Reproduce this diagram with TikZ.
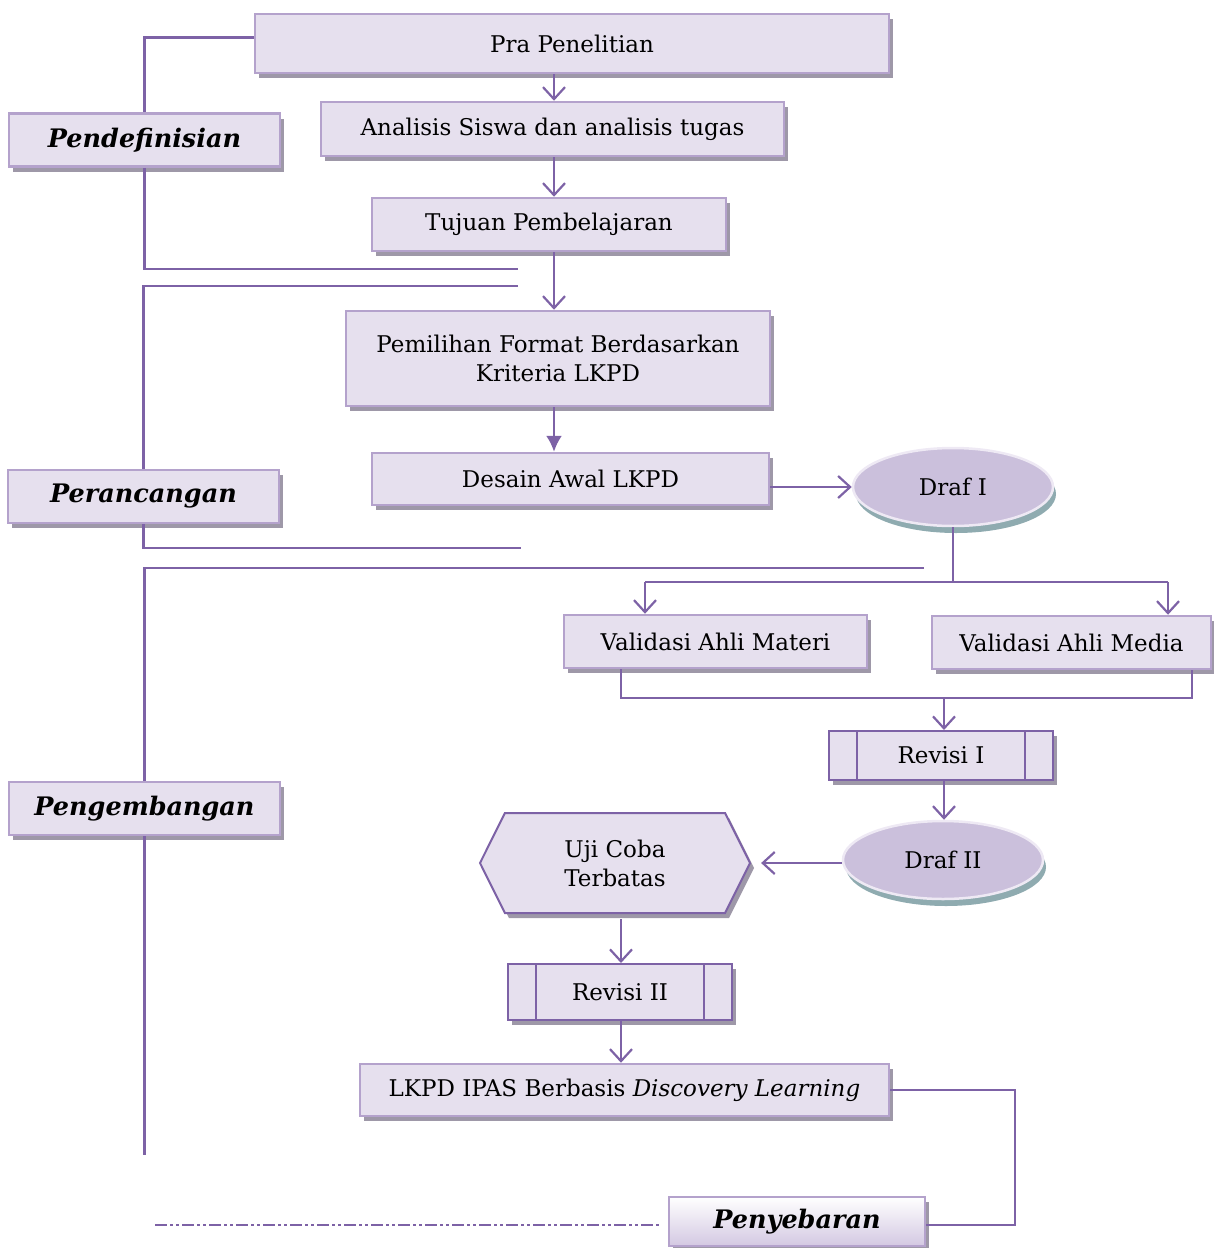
\documentclass[tikz,border=0pt]{standalone}
\usepackage{fontspec}
\setmainfont{DejaVu Serif}
\usetikzlibrary{arrows.meta,shapes.geometric,shapes.symbols,shadows}

\definecolor{lineclr}{HTML}{7D62A6}
\definecolor{boxfill}{HTML}{E6E0EE}
\definecolor{boxdraw}{HTML}{B4A2CC}
\definecolor{boxshadow}{HTML}{9E98A8}
\definecolor{ovalfill}{HTML}{CBC0DC}
\definecolor{ovaldraw}{HTML}{EEE9F4}
\definecolor{ovalshadow}{HTML}{8FABB0}
\definecolor{sebbottom}{HTML}{D3C8E2}

\begin{document}
\begin{tikzpicture}[x=1pt,y=-1pt,>={Straight Barb[length=12pt,width=22pt]},
  font=\fontsize{23}{29}\selectfont,
  main node/.style={rectangle,fill=boxfill,draw=boxdraw,line width=2.5pt,
    inner sep=0pt,align=center,
    drop shadow={shadow xshift=4pt,shadow yshift=-5pt,fill=boxshadow,opacity=1}},
  phase node/.style={main node,font=\fontsize{25.5}{30}\selectfont\bfseries\itshape,
    minimum width=271pt,minimum height=53pt},
  draf node/.style={ellipse,fill=ovalfill,draw=ovaldraw,line width=2.5pt,
    minimum width=200pt,minimum height=78pt,inner sep=0pt,
    drop shadow={shadow xshift=3pt,shadow yshift=-7pt,fill=ovalshadow,opacity=1}},
  revisi node/.style={main node,draw=lineclr,line width=2pt,
    minimum width=224pt,
    path picture={
      \draw[lineclr,line width=2pt] ([xshift=28pt]path picture bounding box.north west)
        -- ([xshift=28pt]path picture bounding box.south west);
      \draw[lineclr,line width=2pt] ([xshift=-28pt]path picture bounding box.north east)
        -- ([xshift=-28pt]path picture bounding box.south east);}},
  link/.style={draw=lineclr,line width=2.2pt}]

  \useasboundingbox (0,0) rectangle (1214,1248);

  % main column
  \node[main node,minimum width=634pt,minimum height=59pt] (pra) at (572,43.5) {Pra Penelitian};
  \node[main node,minimum width=463pt,minimum height=54pt] (ana) at (552.5,129) {Analisis Siswa dan analisis tugas};
  \node[main node,minimum width=354pt,minimum height=53pt] (tuj) at (549,224.5) {Tujuan Pembelajaran};
  \node[main node,minimum width=424pt,minimum height=95pt] (pem) at (558,358.5) {Pemilihan Format Berdasarkan\\Kriteria LKPD};
  \node[main node,minimum width=397pt,minimum height=52pt] (des) at (570.5,479) {Desain Awal LKPD};
  \node[draf node] (drafI) at (953,487) {Draf I};
  \node[main node,minimum width=303pt,minimum height=53pt] (valmat) at (715.5,641.5) {Validasi Ahli Materi};
  \node[main node,minimum width=279pt,minimum height=53pt] (valmed) at (1071.5,642.5) {Validasi Ahli Media};
  \node[revisi node,minimum height=49pt] (revI) at (941,755.5) {Revisi I};
  \node[draf node] (drafII) at (943,860) {Draf II};
  \node[main node,draw=lineclr,line width=2pt,signal,signal to=east and west,
    signal pointer angle=127,minimum width=270pt,minimum height=100pt] (uji) at (615,863) {Uji Coba\\Terbatas};
  \node[revisi node,minimum height=56pt] (revII) at (620,992) {Revisi II};
  \node[main node,minimum width=529pt,minimum height=52pt] (lkpd) at (624.5,1090) {LKPD IPAS Berbasis \textit{Discovery Learning}};

  % phases
  \node[phase node] (pend) at (144.5,140) {Pendefinisian};
  \node[phase node] (ranc) at (143.5,496.5) {Perancangan};
  \node[phase node] (kemb) at (144.5,808.5) {Pengembangan};
  \node[phase node,shading=axis,top color=white,bottom color=sebbottom,
    minimum width=256pt,minimum height=49pt] (seb) at (797,1221.5) {Penyebaran};

  \coordinate (col) at (554,0);
  \coordinate (colb) at (621,0);
  \coordinate (colr) at (944,0);
  \coordinate (split) at (953,582);
  \coordinate (vm) at (645,582);
  \coordinate (vd) at (1168,582);
  \coordinate (jm) at (621,698);
  \coordinate (jd) at (1192,698);
  \coordinate (defend) at (518,269);
  \coordinate (ranstart) at (518,286);
  \coordinate (ranend) at (521,548);
  \coordinate (kemstart) at (924,568);
  \coordinate (kemend) at (144,1155);
  \coordinate (sebturn) at (1015,1225);
  \coordinate (dashstart) at (155,1225);

  % flow
  \draw[link,->] (pra.south -| col) -- (ana.north -| col);
  \draw[link,->] (ana.south -| col) -- (tuj.north -| col);
  \draw[link,->] (tuj.south -| col) -- (pem.north -| col);
  \draw[link,-{Latex[length=16pt,width=16pt]}] (pem.south -| col) -- (des.north -| col);
  \draw[link,->] (des.east |- drafI) -- (drafI.west);
  \draw[link] (drafI.south) -- (split);
  \draw[link] (vm) -- (vd);
  \draw[link,->] (vm) -- (vm |- valmat.north);
  \draw[link,->] (vd) -- (vd |- valmed.north);
  \draw[link] (valmat.south -| jm) -- (jm) -- (jd) -- (valmed.south -| jd);
  \draw[link,->] (jm -| colr) -- (revI.north -| colr);
  \draw[link,->] (revI.south -| colr) -- (drafII.north -| colr);
  \draw[link,->,shorten >=10pt] (drafII.west |- uji) -- (uji.east);
  \draw[link,->,shorten <=5pt] (uji.south -| colb) -- (revII.north -| colb);
  \draw[link,->] (revII.south -| colb) -- (lkpd.north -| colb);

  % phase brackets
  \draw[link] ([yshift=6pt]pra.west) -| (pend.north);
  \draw[link] (pend.south) |- (defend);
  \draw[link] (ranstart) -| (ranc.north);
  \draw[link] (ranc.south) |- (ranend);
  \draw[link] (kemstart) -| (kemb.north);
  \draw[link] (kemb.south) -- (kemb.south |- kemend);
  \draw[link] (lkpd.east) -| (sebturn) -- (sebturn -| seb.east);
  \draw[link,line width=2.5pt,dash pattern=on 12pt off 3pt on 3pt off 3pt on 3pt off 3pt,
    shorten >=7pt] (dashstart) -- (dashstart -| seb.west);
\end{tikzpicture}
\end{document}
